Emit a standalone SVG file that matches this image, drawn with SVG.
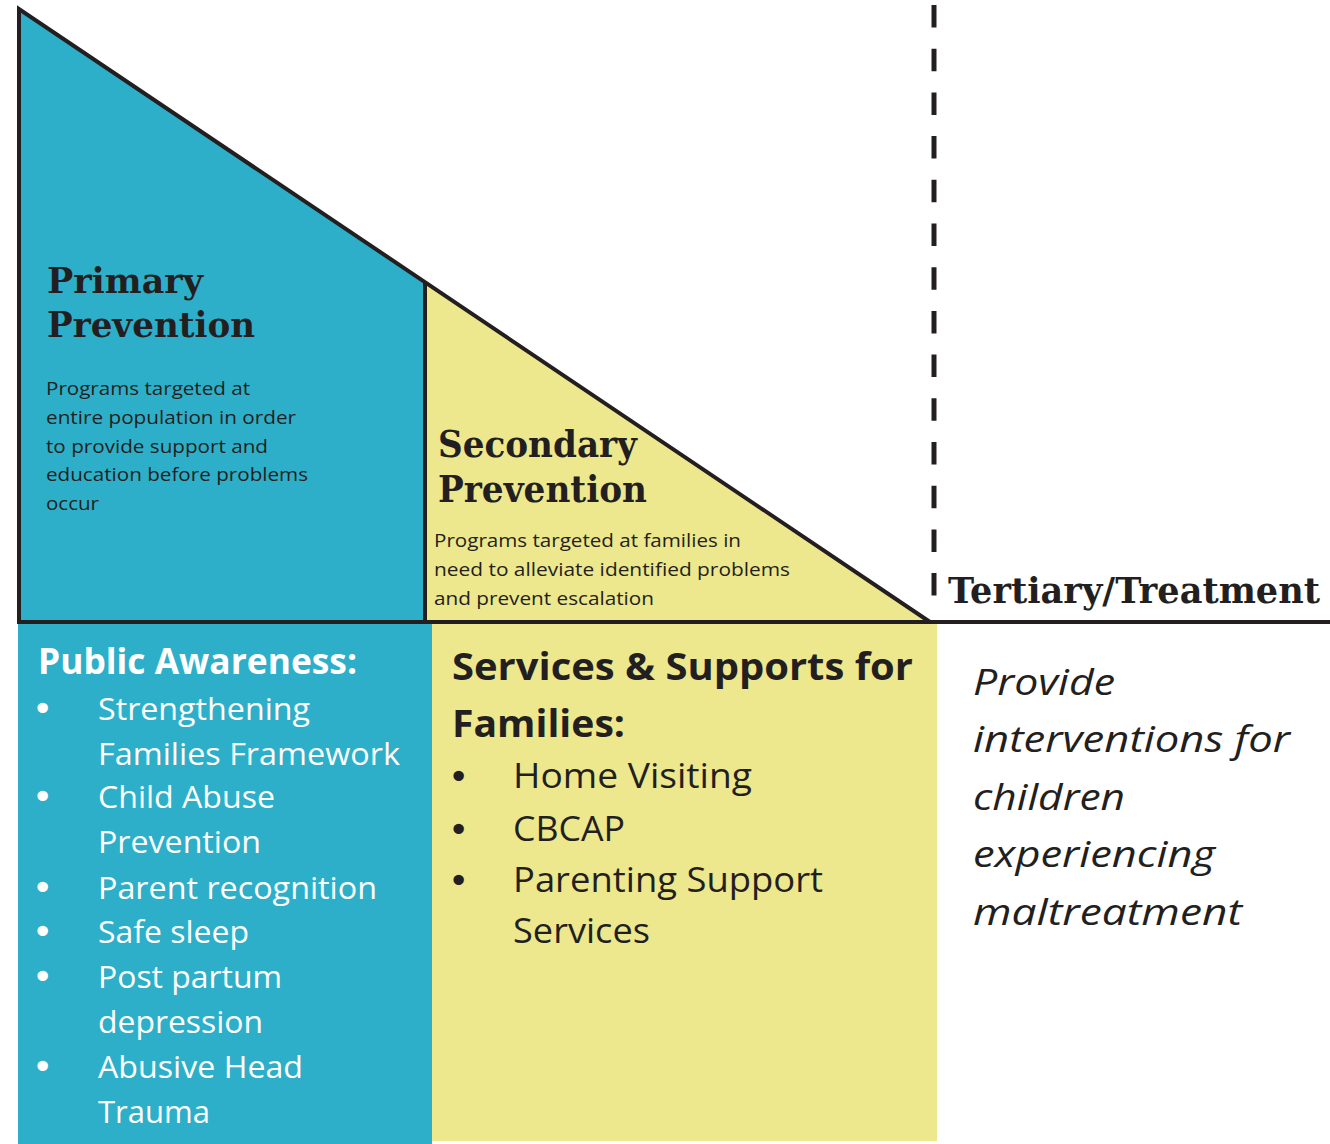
<svg xmlns="http://www.w3.org/2000/svg" width="1330" height="1144" viewBox="0 0 1330 1144">
<style>
.edge{stroke:#231f20;stroke-width:4;fill:none;stroke-linejoin:miter}
.head{font-family:"DejaVu Serif","Liberation Serif",serif;font-weight:bold;fill:#231f20}
.body{font-family:"Open Sans","Noto Sans","Liberation Sans",sans-serif;fill:#231f20}
.white{fill:#ffffff}
.bold{font-weight:bold}
.ital{font-style:italic}
.bul{font-family:"DejaVu Sans",sans-serif;font-size:36px}
</style>
<rect x="0" y="0" width="1330" height="1144" fill="#ffffff"/>
<g id="primary">
<polygon points="19,9 425,282 425,622 19,622" fill="#2eafc9"/>
<text class="head" font-size="36" x="47" y="293" textLength="156" lengthAdjust="spacingAndGlyphs">Primary</text>
<text class="head" font-size="36" x="47" y="337" textLength="208" lengthAdjust="spacingAndGlyphs">Prevention</text>
<g class="body" font-size="18.5">
<text x="46" y="395" textLength="204" lengthAdjust="spacingAndGlyphs">Programs targeted at</text>
<text x="46" y="424" textLength="250" lengthAdjust="spacingAndGlyphs">entire population in order</text>
<text x="46" y="453" textLength="222" lengthAdjust="spacingAndGlyphs">to provide support and</text>
<text x="46" y="481" textLength="262" lengthAdjust="spacingAndGlyphs">education before problems</text>
<text x="46" y="510" textLength="53" lengthAdjust="spacingAndGlyphs">occur</text>
</g>
</g>
<g id="secondary">
<polygon points="425,282 930,622 425,622" fill="#ede78d"/>
<text class="head" font-size="37" x="438" y="457" textLength="199" lengthAdjust="spacingAndGlyphs">Secondary</text>
<text class="head" font-size="37" x="438" y="502" textLength="209" lengthAdjust="spacingAndGlyphs">Prevention</text>
<g class="body" font-size="19">
<text x="434" y="547" textLength="307" lengthAdjust="spacingAndGlyphs">Programs targeted at families in</text>
<text x="434" y="576" textLength="356" lengthAdjust="spacingAndGlyphs">need to alleviate identified problems</text>
<text x="434" y="605" textLength="220" lengthAdjust="spacingAndGlyphs">and prevent escalation</text>
</g>
</g>
<g id="tertiary">
<text class="head" font-size="35" x="948" y="603" textLength="372" lengthAdjust="spacingAndGlyphs">Tertiary/Treatment</text>
</g>
<g id="connectors">
<polyline class="edge" points="19,622 19,9 930,622"/>
<line class="edge" x1="425" y1="282" x2="425" y2="622"/>
<line class="edge" x1="17" y1="622" x2="1330" y2="622"/>
<line x1="934" y1="5" x2="934" y2="596" stroke="#231f20" stroke-width="5" stroke-dasharray="22.5 21.2"/>
</g>
<g id="public-awareness">
<rect x="18" y="624" width="414" height="520" fill="#2eafc9"/>
<g class="body white">
<text class="bold" font-size="36" x="38" y="674" textLength="319" lengthAdjust="spacingAndGlyphs">Public Awareness:</text>
<g font-size="31">
<text class="bul" x="32" y="721">•</text>
<text x="98" y="720" textLength="212" lengthAdjust="spacingAndGlyphs">Strengthening</text>
<text x="98" y="765" textLength="302" lengthAdjust="spacingAndGlyphs">Families Framework</text>
<text class="bul" x="32" y="809">•</text>
<text x="98" y="808" textLength="177" lengthAdjust="spacingAndGlyphs">Child Abuse</text>
<text x="98" y="853" textLength="163" lengthAdjust="spacingAndGlyphs">Prevention</text>
<text class="bul" x="32" y="900">•</text>
<text x="98" y="899" textLength="279" lengthAdjust="spacingAndGlyphs">Parent recognition</text>
<text class="bul" x="32" y="944">•</text>
<text x="98" y="943" textLength="151" lengthAdjust="spacingAndGlyphs">Safe sleep</text>
<text class="bul" x="32" y="989">•</text>
<text x="98" y="988" textLength="184" lengthAdjust="spacingAndGlyphs">Post partum</text>
<text x="98" y="1033" textLength="165" lengthAdjust="spacingAndGlyphs">depression</text>
<text class="bul" x="32" y="1079">•</text>
<text x="98" y="1078" textLength="205" lengthAdjust="spacingAndGlyphs">Abusive Head</text>
<text x="98" y="1123" textLength="112" lengthAdjust="spacingAndGlyphs">Trauma</text>
</g>
</g>
</g>
<g id="services">
<rect x="432" y="624" width="505" height="517" fill="#ede78d"/>
<g class="body">
<text class="bold" font-size="38" x="452" y="680" textLength="461" lengthAdjust="spacingAndGlyphs">Services &amp; Supports for</text>
<text class="bold" font-size="38" x="452" y="737" textLength="173" lengthAdjust="spacingAndGlyphs">Families:</text>
<g font-size="35">
<text class="bul" x="448" y="789">•</text>
<text x="513" y="788" textLength="239" lengthAdjust="spacingAndGlyphs">Home Visiting</text>
<text class="bul" x="448" y="842">•</text>
<text x="513" y="841" textLength="112" lengthAdjust="spacingAndGlyphs">CBCAP</text>
<text class="bul" x="448" y="893">•</text>
<text x="513" y="892" textLength="310" lengthAdjust="spacingAndGlyphs">Parenting Support</text>
<text x="513" y="943" textLength="137" lengthAdjust="spacingAndGlyphs">Services</text>
</g>
</g>
</g>
<g id="treatment">
<g class="body ital" font-size="37">
<text x="973" y="695" textLength="142" lengthAdjust="spacingAndGlyphs">Provide</text>
<text x="973" y="752" textLength="317" lengthAdjust="spacingAndGlyphs">interventions for</text>
<text x="973" y="810" textLength="152" lengthAdjust="spacingAndGlyphs">children</text>
<text x="973" y="867" textLength="242" lengthAdjust="spacingAndGlyphs">experiencing</text>
<text x="973" y="925" textLength="269" lengthAdjust="spacingAndGlyphs">maltreatment</text>
</g>
</g>
</svg>
